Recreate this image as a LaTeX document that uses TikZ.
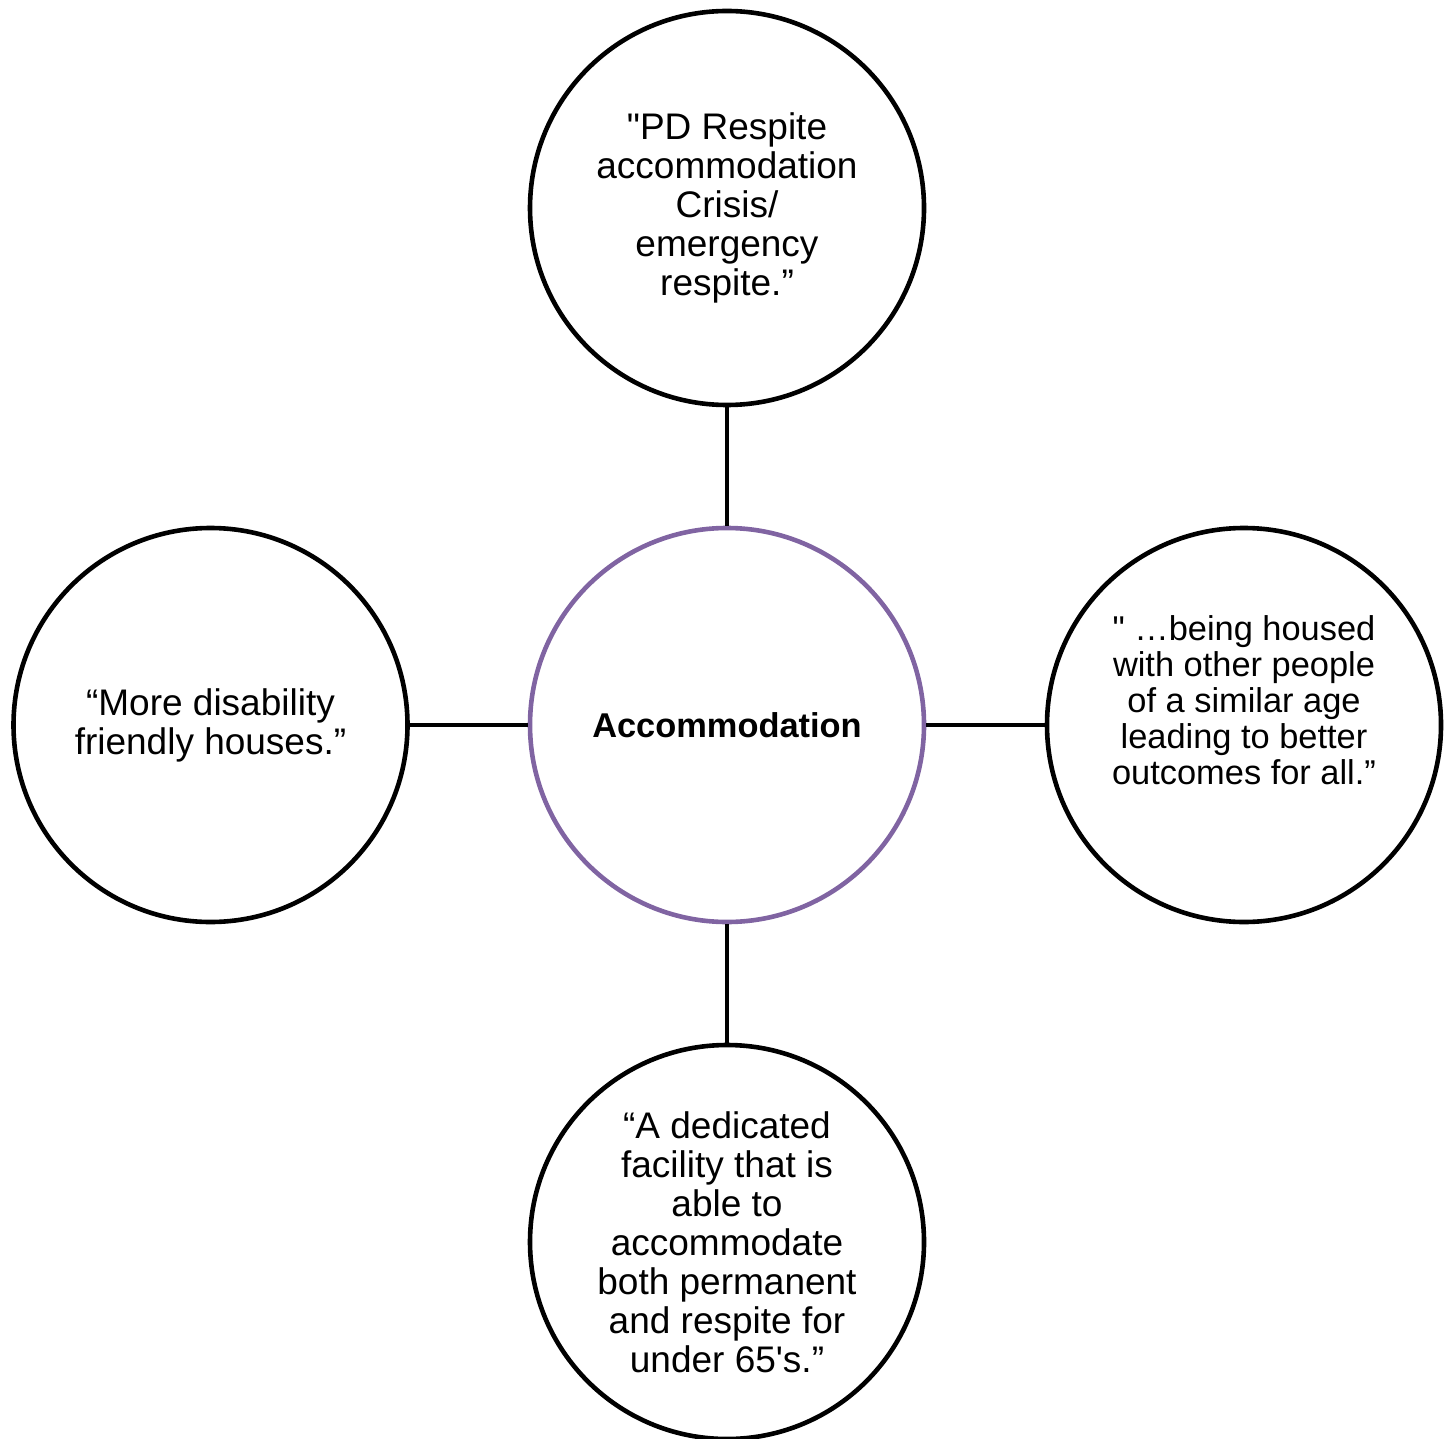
\documentclass[tikz,border=0pt]{standalone}
\usepackage{fontspec}
\setmainfont{Liberation Sans}
\definecolor{hubpurple}{RGB}{128,100,162}
\begin{document}
\begin{tikzpicture}[x=0.5pt,y=-0.5pt,
  bubble/.style={circle, draw=black, line width=2.3pt, minimum size=197pt, inner sep=0pt},
  hub/.style={bubble, draw=hubpurple},
  quote/.style={align=center, font=\fontsize{18.5pt}{19.5pt}\selectfont},
  smallquote/.style={align=center, font=\fontsize{17.2pt}{18pt}\selectfont},
  link/.style={line width=2.3pt, draw=black}]
\useasboundingbox (0,0) rectangle (1454,1438);

% central topic
\node[hub, font=\fontsize{17.2pt}{18pt}\selectfont\bfseries] (hub) at (727,725) {Accommodation};

% surrounding quotes
\node[bubble, quote] (top) at (727,208)
  {\textquotedbl PD Respite\\accommodation\\Crisis/\\emergency\\respite.”};
\node[bubble, quote] (left) at (210.5,725)
  {“More disability\\friendly houses.”};
\node[bubble] (right) at (1244,725) {};
\node[smallquote] (righttext) at (1244,700)
  {\textquotedbl{} …being housed\\with other people\\of a similar age\\leading to better\\outcomes for all.”};
\node[bubble, quote] (bottom) at (727,1242)
  {“A dedicated\\facility that is\\able to\\accommodate\\both permanent\\and respite for\\under 65\textquotesingle s.”};

% spokes
\draw[link] (top) -- (hub);
\draw[link] (left) -- (hub);
\draw[link] (hub) -- (right);
\draw[link] (hub) -- (bottom);
\end{tikzpicture}
\end{document}
